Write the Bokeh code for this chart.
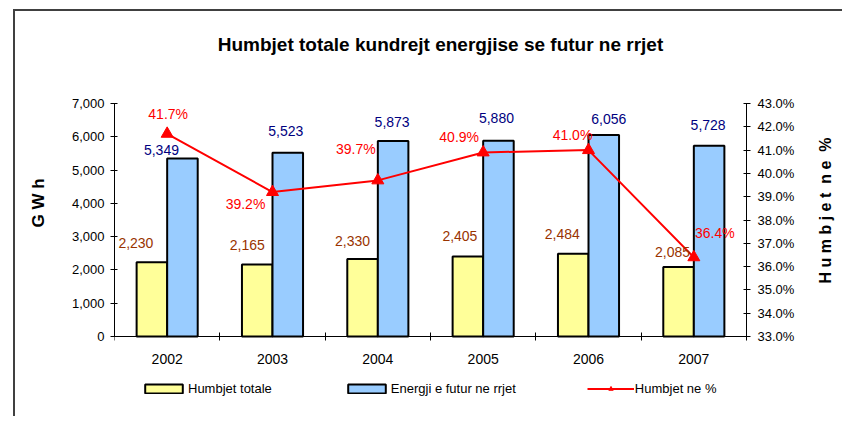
from bokeh.plotting import figure
from bokeh.models import (ColumnDataSource, Range1d, LinearAxis, FixedTicker, Label,
                          NumeralTickFormatter, Legend, LegendItem)
from bokeh.core.properties import value
from bokeh.embed import file_html
from bokeh.resources import INLINE
import numpy as np

# ---- data ----
years = ["2002", "2003", "2004", "2005", "2006", "2007"]
humbjet_totale = [2230, 2165, 2330, 2405, 2484, 2085]
energji_futur = [5349, 5523, 5873, 5880, 6056, 5728]
humbjet_pct = [41.7, 39.2, 39.7, 40.9, 41.0, 36.4]

left_ticks = [0, 1000, 2000, 3000, 4000, 5000, 6000, 7000]
right_ticks = [33, 34, 35, 36, 37, 38, 39, 40, 41, 42, 43]

title_text = "Humbjet totale kundrejt energjise se futur ne rrjet"
left_title = "G W h"
right_title = "H u m b j e t \u00a0n e \u00a0%"

# label placement offsets (pixels) - manual positions as in the original
yel_dx = [-16, -10, -10, -8, -11, -6]
yel_dy = [-19, -19, -18, -20, -20, -15]
blu_dx = [-21, -2, -1, -2, 5, -1]
blu_dy = [-8, -22, -19, -23, -16, -21]
pct_dx = [1, -27, -22, -24, -16, 21]
pct_dy = [-20, 12, -31, -15, -15, -24]

FONT = "Liberation Sans"
NB = "\u00a0"
n = len(years)
idx = np.arange(n)
bw = 0.29

# ---- geometry (canvas pixels) ----
ML, PW, FW, MR = 99, 632, 726, 2  # left border, plot-area width, frame width, right border
MT, FH, MB = 2, 393, 10           # top border, frame height, bottom border
AX_TOP, AX_BOT = 90, 323          # rows (from frame top) of value-axis top / zero line
y0, y1 = 0, 7000
p0, p1 = 33, 43
ppu = (AX_BOT - AX_TOP) / (y1 - y0)
y_start = y0 - (FH - AX_BOT) / ppu
y_end = y1 + AX_TOP / ppu
ppu2 = (AX_BOT - AX_TOP) / (p1 - p0)
p_start = p0 - (FH - AX_BOT) / ppu2
p_end = p1 + AX_TOP / ppu2
x_end = n * FW / PW


def fx(px):  # frame-pixel x -> data x
    return px / PW * n


def fy(py):  # frame-pixel y (from frame top) -> data y
    return y_end - py / ppu


src_y = ColumnDataSource(dict(x=idx + 0.5 - bw / 2, top=humbjet_totale,
                              lbl=[f"{v:,}" for v in humbjet_totale], dx=yel_dx, dy=yel_dy))
src_b = ColumnDataSource(dict(x=idx + 0.5 + bw / 2, top=energji_futur,
                              lbl=[f"{v:,}" for v in energji_futur], dx=blu_dx, dy=blu_dy))
src_p = ColumnDataSource(dict(x=idx + 0.5, y=humbjet_pct,
                              lbl=[f"{v:.1f}%" for v in humbjet_pct], dx=pct_dx, dy=pct_dy))
src_x = ColumnDataSource(dict(x=idx + 0.5, y=[0] * n, lbl=years))
src_r = ColumnDataSource(dict(x=[n] * len(right_ticks), y=right_ticks,
                              lbl=[f"{t:.1f}%" for t in right_ticks]))

p = figure(frame_width=FW, frame_height=FH, output_backend="svg", toolbar_location=None,
           x_range=Range1d(0, x_end), y_range=Range1d(y_start, y_end),
           min_border_left=ML, min_border_top=MT, min_border_right=MR, min_border_bottom=MB)
p.margin = (9, 0, 0, 13)
p.styles = {"border-top": "2px solid #404040", "border-left": "2px solid #404040"}
p.title.visible = False
p.outline_line_color = None
p.grid.visible = False
p.background_fill_color = "white"
p.border_fill_color = "white"

p.extra_y_ranges = {"pct": Range1d(p_start, p_end)}

# bars
r1 = p.vbar(x="x", top="top", bottom=0, width=bw, source=src_y, fill_color="#FFFF99",
            line_color="black", line_width=2)
r2 = p.vbar(x="x", top="top", bottom=0, width=bw, source=src_b, fill_color="#99CCFF",
            line_color="black", line_width=2)
# line
r3 = p.line(x="x", y="y", source=src_p, y_range_name="pct", line_color="#FF0000", line_width=2)
r4 = p.scatter(x="x", y="y", source=src_p, y_range_name="pct", marker="triangle", size=12,
               fill_color="#FF0000", line_color="#FF0000")

# data labels
p.text(x="x", y="top", text="lbl", source=src_y, x_offset="dx", y_offset="dy",
       text_align="center", text_baseline="middle", text_font=value(FONT),
       text_font_size="14px", text_color="#993300")
p.text(x="x", y="top", text="lbl", source=src_b, x_offset="dx", y_offset="dy",
       text_align="center", text_baseline="middle", text_font=value(FONT),
       text_font_size="14px", text_color="#000080")
p.text(x="x", y="y", text="lbl", source=src_p, y_range_name="pct", x_offset="dx", y_offset="dy",
       text_align="center", text_baseline="middle", text_font=value(FONT),
       text_font_size="14px", text_color="#FF0000")
# category labels under the zero line
p.text(x="x", y="y", text="lbl", source=src_x, y_offset=22,
       text_align="center", text_baseline="middle", text_font=value(FONT),
       text_font_size="14px", text_color="black")
# percentage-axis tick labels
p.text(x="x", y="y", text="lbl", source=src_r, y_range_name="pct", x_offset=11,
       text_align="left", text_baseline="middle", text_font=value(FONT),
       text_font_size="13px", text_color="black")

# x axis at zero: tick marks at category boundaries only
xa = p.xaxis[0]
xa.fixed_location = 0
xa.bounds = (0, n)
xa.ticker = FixedTicker(ticks=[], minor_ticks=list(range(n + 1)))
xa.major_tick_line_color = None
xa.major_tick_out = 0
xa.major_tick_in = 0
xa.major_label_standoff = 0
xa.minor_tick_line_color = "black"
xa.minor_tick_in = 4
xa.minor_tick_out = 4
xa.axis_line_color = "black"

ya = p.yaxis[0]
ya.bounds = (y0, y1)
ya.ticker = FixedTicker(ticks=left_ticks)
ya.formatter = NumeralTickFormatter(format="0,0")
ya.major_tick_in = 3
ya.major_tick_out = 4
ya.minor_tick_line_color = None
ya.major_label_standoff = 6
ya.major_label_text_font = FONT
ya.major_label_text_font_size = "13px"
ya.major_label_text_color = "black"
ya.axis_line_color = "black"
ya.axis_label = NB * 3 + left_title
ya.axis_label_standoff = 21
ya.axis_label_text_font = FONT
ya.axis_label_text_font_style = "bold"
ya.axis_label_text_font_size = "17px"
ya.axis_label_text_color = "black"

# percentage axis at the right edge of the plot area (tick marks only)
ra = LinearAxis(y_range_name="pct", ticker=FixedTicker(ticks=[], minor_ticks=right_ticks))
ra.fixed_location = n
ra.bounds = (p0, p1)
ra.major_tick_line_color = None
ra.major_tick_in = 0
ra.major_tick_out = 0
ra.major_label_standoff = 0
ra.minor_tick_line_color = "black"
ra.minor_tick_in = 3
ra.minor_tick_out = 4
ra.axis_line_color = "black"
p.add_layout(ra, "right")

# title and right axis title inside the (large) frame
p.add_layout(Label(x=fx(326), y=fy(31), text=title_text,
                   text_font=FONT, text_font_style="bold", text_font_size="19px",
                   text_align="center", text_baseline="middle", text_color="black"))
p.add_layout(Label(x=fx(711), y=fy(197), text=right_title, angle=np.pi / 2,
                   text_font=FONT, text_font_style="bold", text_font_size="16px",
                   text_align="center", text_baseline="middle", text_color="black"))

legend = Legend(items=[LegendItem(label="Humbjet totale", renderers=[r1]),
                       LegendItem(label="Energji e futur ne rrjet", renderers=[r2]),
                       LegendItem(label="Humbjet ne %", renderers=[r3, r4])],
                location=(26, 10), orientation="horizontal", padding=0, margin=0, spacing=71,
                glyph_width=47, glyph_height=11, label_height=11, label_standoff=1,
                label_text_font=FONT, label_text_font_size="13px", label_text_color="black",
                border_line_color=None, background_fill_alpha=0)
p.add_layout(legend, "center")

open("out.html", "w").write(file_html(p, INLINE))
